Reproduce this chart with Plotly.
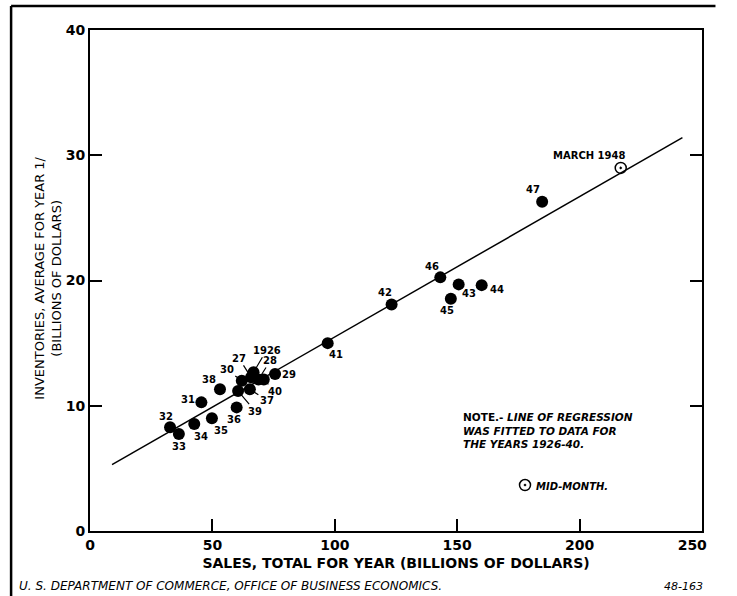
import plotly.graph_objects as go

# ---- data ----
years = ["1926", "27", "28", "29", "30", "31", "32", "33", "34", "35", "36",
         "37", "38", "39", "40", "41", "42", "43", "44", "45", "46", "47"]
sales = [66.8, 65.8, 68.8, 75.6, 62.0, 45.5, 32.7, 36.3, 42.6, 49.8, 59.9,
         65.3, 53.1, 60.5, 71.0, 97.1, 123.2, 150.6, 160.0, 147.4, 143.1, 184.7]
inventories = [12.67, 12.27, 12.10, 12.53, 12.00, 10.27, 8.28, 7.74, 8.54, 9.00, 9.87,
               11.31, 11.31, 11.17, 12.10, 15.00, 18.09, 19.69, 19.63, 18.54, 20.25, 26.28]

march_1948_sales = [216.8]
march_1948_inv = [28.99]

# regression line (fitted to 1926-40), endpoints as drawn
reg_sales = [9.0, 242.0]
reg_inv = [5.3, 31.4]

# mid-month legend key position
key_sales = [177.7]
key_inv = [3.67]

x_ticks = [0, 50, 100, 150, 200, 250]
x_tick_text = ["0", "50", "100", "150", "200", "250\u00a0\u00a0\u00a0\u00a0"]
y_ticks = [0, 10, 20, 30, 40]

# label placement (pixel offsets from each point; dy>0 = up): (dx, dy, leader)
label_pos = {
    "1926": (13, 22, True), "27": (-12, 19, True), "28": (12, 19, True),
    "29": (14, 0, False), "30": (-15, 11, True), "31": (-13, 3, False),
    "32": (-4, 11, False), "33": (0, -12, False), "34": (7, -12, False),
    "35": (9, -12, False), "36": (-3, -12, False), "37": (17, -11, True),
    "38": (-11, 10, False), "39": (17, -20, True), "40": (11, -12, True),
    "41": (8, -11, False), "42": (-7, 12, False), "43": (10, -9, False),
    "44": (15, -4, False), "45": (-4, -12, False), "46": (-8, 11, False),
    "47": (-9, 12, False),
}

FONT = "DejaVu Sans"
L, R, T, B = 90, 11, 30, 65
W, H = 737, 596
PW, PH = W - L - R, H - T - B


def px(xp):
    return (xp - L) / PW


def py(yp):
    return (H - B - yp) / PH


fig = go.Figure()

fig.add_trace(go.Scatter(
    x=reg_sales, y=reg_inv, mode="lines",
    line=dict(color="black", width=1.5), showlegend=False, hoverinfo="skip"))

fig.add_trace(go.Scatter(
    x=sales, y=inventories, mode="markers",
    marker=dict(color="black", size=12, line=dict(width=0)),
    showlegend=False))

fig.add_trace(go.Scatter(
    x=march_1948_sales, y=march_1948_inv, mode="markers",
    marker=dict(symbol="circle-open-dot", color="black", size=11,
                line=dict(color="black", width=1.5)),
    showlegend=False))

fig.add_trace(go.Scatter(
    x=key_sales, y=key_inv, mode="markers",
    marker=dict(symbol="circle-open-dot", color="black", size=11,
                line=dict(color="black", width=1.5)),
    showlegend=False, hoverinfo="skip"))

annotations = []
for yr, sx, iv in zip(years, sales, inventories):
    dx, dy, leader = label_pos[yr]
    if leader:
        annotations.append(dict(
            x=sx, y=iv, xref="x", yref="y", text=yr, showarrow=True,
            ax=dx, ay=-dy,
            arrowhead=0, arrowwidth=1.2, arrowcolor="black", standoff=5,
            font=dict(family=FONT, size=10, color="black", weight="bold")))
    else:
        annotations.append(dict(
            x=sx, y=iv, xref="x", yref="y", text=yr, showarrow=False,
            xshift=dx, yshift=dy,
            font=dict(family=FONT, size=10, color="black", weight="bold")))

annotations.append(dict(
    x=march_1948_sales[0], y=march_1948_inv[0], xref="x", yref="y",
    text="MARCH 1948", showarrow=False, xshift=-32, yshift=12,
    font=dict(family=FONT, size=10, color="black", weight="bold")))

annotations.append(dict(
    x=px(476), y=py(409), xref="paper", yref="paper",
    xanchor="left", yanchor="top", align="left", showarrow=False,
    text="NOTE.- <i>LINE OF REGRESSION</i><br><i>WAS FITTED TO DATA FOR</i><br><i>THE YEARS 1926-40.</i>",
    font=dict(family=FONT, size=10.5, color="black", weight="bold")))

annotations.append(dict(
    x=px(551), y=py(486), xref="paper", yref="paper",
    xanchor="left", yanchor="middle", showarrow=False,
    text="<i>MID-MONTH.</i>",
    font=dict(family=FONT, size=10, color="black", weight="bold")))

# y-axis title (two lines, rotated)
annotations.append(dict(
    x=px(46), y=py(278), xref="paper", yref="paper",
    xanchor="center", yanchor="middle", textangle=-90, showarrow=False,
    text="INVENTORIES, AVERAGE FOR YEAR 1/<br>(BILLIONS OF DOLLARS)",
    font=dict(family=FONT, size=13, color="black")))

# footer
annotations.append(dict(
    x=px(14), y=py(586), xref="paper", yref="paper",
    xanchor="left", yanchor="middle", showarrow=False,
    text="<i>U. S. DEPARTMENT OF COMMERCE, OFFICE OF BUSINESS ECONOMICS.</i>",
    font=dict(family=FONT, size=12, color="black")))
annotations.append(dict(
    x=px(729), y=py(586), xref="paper", yref="paper",
    xanchor="right", yanchor="middle", showarrow=False,
    text="<i>48-163</i>",
    font=dict(family=FONT, size=11, color="black")))

shapes = [
    dict(type="line", xref="paper", yref="paper",
         x0=px(8), x1=px(8), y0=py(6), y1=py(600),
         line=dict(color="black", width=2.5)),
    dict(type="line", xref="paper", yref="paper",
         x0=px(8), x1=px(740), y0=py(6), y1=py(6),
         line=dict(color="black", width=2.5)),
]

fig.update_layout(
    width=W, height=H,
    margin=dict(l=L, r=R, t=T, b=B),
    paper_bgcolor="white", plot_bgcolor="white",
    font=dict(family=FONT, color="black"),
    annotations=annotations, shapes=shapes,
    showlegend=False,
    xaxis=dict(
        range=[0, 250], tickvals=x_ticks, ticktext=x_tick_text,
        ticks="inside", ticklen=12, tickwidth=1.5, tickcolor="black",
        showline=True, linecolor="black", linewidth=2, mirror=True,
        showgrid=False, zeroline=False, ticklabeloverflow="allow",
        tickfont=dict(family=FONT, size=14, color="black", weight="bold"),
        title=dict(text="SALES, TOTAL FOR YEAR (BILLIONS OF DOLLARS)",
                   font=dict(family=FONT, size=14, color="black", weight="bold"),
                   standoff=6),
    ),
    yaxis=dict(
        range=[0, 40], tickvals=y_ticks, ticktext=[str(v) for v in y_ticks],
        ticks="inside", ticklen=12, tickwidth=1.5, tickcolor="black",
        showline=True, linecolor="black", linewidth=2, mirror="ticks",
        showgrid=False, zeroline=False,
        tickfont=dict(family=FONT, size=14, color="black", weight="bold"),
    ),
)

fig.write_html("out.html", config={"displayModeBar": False},
               post_script="document.body.style.margin='0';")
